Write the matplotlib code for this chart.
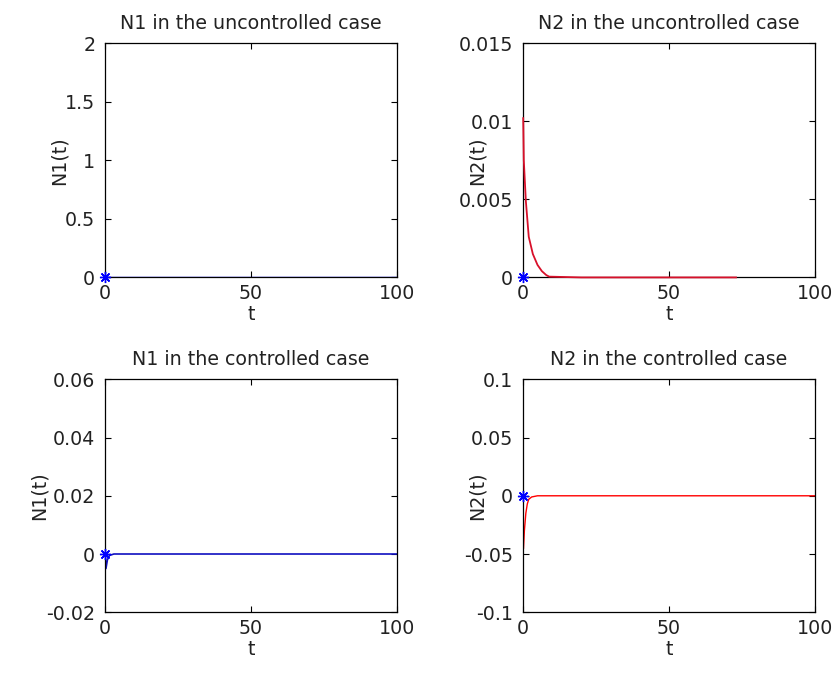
import numpy as np
import matplotlib
matplotlib.use("Agg")
import matplotlib.pyplot as plt

plt.rcParams['font.family'] = ['DejaVu Sans']

# N1, uncontrolled: stays at zero
t_n1_unc = [0, 100]
n1_unc = [0, 0]

# N2, uncontrolled: fast decay, run stops near t = 73
t_n2_unc = [0.1, 0.3, 1, 2, 3.4, 5, 6.5, 8, 9, 20, 40, 60, 73]
n2_unc = [0.0102, 0.0075, 0.0049, 0.0026, 0.0015, 0.0008, 0.0004, 0.00015, 0.00005, 0, 0, 0, 0]

# N1, controlled: tiny dip at start
t_n1_con = [0, 0.3, 0.8, 1.5, 3, 100]
n1_con = [0, -0.005, -0.002, -0.0005, 0, 0]

# N2, controlled: dip then back to zero
t_n2_con = [0.2, 0.5, 1, 1.5, 2, 3, 5, 100]
n2_con = [-0.045, -0.03, -0.015, -0.007, -0.003, -0.001, 0, 0]

fig = plt.figure(figsize=(8.34, 6.75), dpi=100)

pos = {
    'tl': [0.126, 0.589, 0.350, 0.347],
    'tr': [0.627, 0.589, 0.350, 0.347],
    'bl': [0.126, 0.093, 0.350, 0.345],
    'br': [0.627, 0.093, 0.350, 0.345],
}

FS = 13.7
star = dict(marker=(8, 2, 0), color='blue', ms=8, mew=1, clip_on=False, zorder=5, ls='none')

def style(ax, title, ylab, ylim, yticks, ytl, ylab_x=-0.125):
    ax.set_xlim(0, 100)
    ax.set_ylim(*ylim)
    ax.set_xticks([0, 50, 100])
    ax.set_yticks(yticks)
    ax.set_yticklabels(ytl)
    ax.tick_params(direction='in', top=True, right=True, length=4, width=0.8,
                   labelsize=FS, labelcolor='#222222')
    ax.tick_params(axis='x', pad=5)
    ax.tick_params(axis='y', pad=7)
    for s in ax.spines.values():
        s.set_linewidth(0.9)
    ax.set_title(title, fontsize=FS, pad=10, color='#222222')
    ax.set_xlabel('t', fontsize=FS, labelpad=1, color='#222222')
    ax.set_ylabel(ylab, fontsize=FS, color='#222222')
    ax.yaxis.set_label_coords(ylab_x, 0.5)

ax = fig.add_axes(pos['tl'])
ax.plot(t_n1_unc, n1_unc, color='blue', lw=1, zorder=1)
ax.plot([0], [0], **star)
style(ax, 'N1 in the uncontrolled case', 'N1(t)', (0, 2), [0, 0.5, 1, 1.5, 2],
      ['0', '0.5', '1', '1.5', '2'])

ax = fig.add_axes(pos['tr'])
ax.plot(t_n2_unc, n2_unc, color='#d8102a', lw=1.3, clip_on=False, zorder=4)
ax.plot([0], [0], **star)
style(ax, 'N2 in the uncontrolled case', 'N2(t)', (0, 0.015), [0, 0.005, 0.01, 0.015],
      ['0', '0.005', '0.01', '0.015'])

ax = fig.add_axes(pos['bl'])
ax.plot(t_n1_con, n1_con, color='#1010c0', lw=1.2)
ax.plot([0], [0], **star)
style(ax, 'N1 in the controlled case', 'N1(t)', (-0.02, 0.06), [-0.02, 0, 0.02, 0.04, 0.06],
      ['-0.02', '0', '0.02', '0.04', '0.06'], ylab_x=-0.195)

ax = fig.add_axes(pos['br'])
ax.plot(t_n2_con, n2_con, color='red', lw=1)
ax.plot([0], [0], **star)
style(ax, 'N2 in the controlled case', 'N2(t)', (-0.1, 0.1), [-0.1, -0.05, 0, 0.05, 0.1],
      ['-0.1', '-0.05', '0', '0.05', '0.1'])

fig.savefig('out.png', dpi=100, facecolor='white')
